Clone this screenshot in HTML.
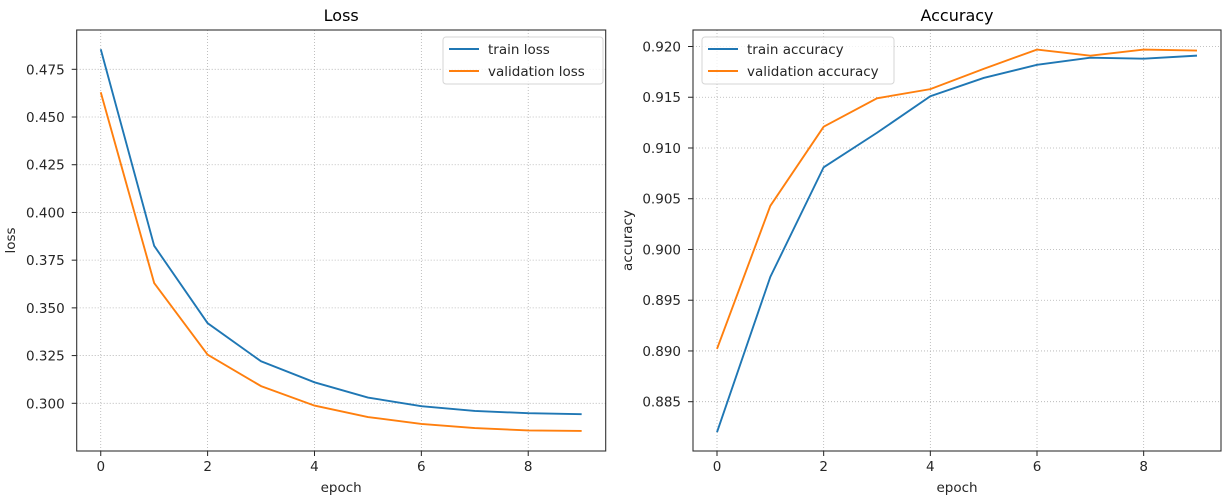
<!DOCTYPE html>
<html><head><meta charset="utf-8"><style>
body{margin:0;background:#fff;}
svg{display:block;font-family:"DejaVu Sans","Liberation Sans",sans-serif;}
</style></head><body>
<svg id="fig" width="1232" height="502" viewBox="0 0 1232 502" xmlns="http://www.w3.org/2000/svg"></svg>
<script>
const epochs=[0,1,2,3,4,5,6,7,8,9];
const trainLoss=[0.4855,0.3825,0.342,0.322,0.311,0.303,0.2985,0.296,0.2948,0.2943];
const valLoss=[0.463,0.363,0.3255,0.309,0.2988,0.2928,0.2892,0.287,0.2858,0.2855];
const trainAcc=[0.8820,0.8973,0.9081,0.9115,0.9151,0.9169,0.9182,0.9189,0.9188,0.9191];
const valAcc=[0.8902,0.9043,0.9121,0.9149,0.9158,0.9178,0.9197,0.9191,0.9197,0.9196];
const xTicks=[0,2,4,6,8];
const lossTicks=[0.300,0.325,0.350,0.375,0.400,0.425,0.450,0.475];
const accTicks=[0.885,0.890,0.895,0.900,0.905,0.910,0.915,0.920];

const NS="http://www.w3.org/2000/svg";
const svg=document.getElementById('fig');
function mk(tag,attrs,parent){const e=document.createElementNS(NS,tag);for(const k in attrs)e.setAttribute(k,attrs[k]);(parent||svg).appendChild(e);return e;}

function panel(o){
  const g=mk('g',{});
  
  
  const L=o.left,R=o.right,T=30,B=451;
  const xs=v=>L+(v+0.45)/9.9*(R-L);
  const ys=v=>o.y0px+(v-o.y0)/(o.y1-o.y0)*(o.y1px-o.y0px);
  xTicks.forEach(t=>{
    const x=xs(t);
    const gl=mk('line',{x1:x,x2:x,y1:T,y2:B,stroke:'#b0b0b0','stroke-width':0.8,'stroke-dasharray':'1,2'},g);
    
    mk('line',{x1:x,x2:x,y1:B,y2:B+5,stroke:'#222','stroke-width':1},g);
    const tx=mk('text',{x:x,y:B+20,'text-anchor':'middle','font-size':13.5,fill:'#262626'},g);
    tx.textContent=t;
    
  });
  o.ticks.forEach(t=>{
    const y=ys(t);
    const gl=mk('line',{x1:L,x2:R,y1:y,y2:y,stroke:'#b0b0b0','stroke-width':0.8,'stroke-dasharray':'1,2'},g);
    
    mk('line',{x1:L-5,x2:L,y1:y,y2:y,stroke:'#222','stroke-width':1},g);
    const tx=mk('text',{x:L-12,y:y+5,'text-anchor':'end','font-size':13.5,fill:'#262626'},g);
    tx.textContent=t.toFixed(3);
    
  });
  o.series.forEach(s=>{
    const p=mk('polyline',{points:epochs.map((e,i)=>xs(e)+','+ys(s.vals[i])).join(' '),fill:'none',stroke:s.color,'stroke-width':1.9},g);
    
  });
  const fr=mk('rect',{x:L,y:T,width:R-L,height:B-T,fill:'none',stroke:'#333','stroke-width':1.1},g);
  
  const ti=mk('text',{x:(L+R)/2,y:21,'text-anchor':'middle','font-size':16,fill:'#000'},g);
  ti.textContent=o.title;
  const xl=mk('text',{x:(L+R)/2,y:492,'text-anchor':'middle','font-size':13.5,fill:'#262626'},g);
  xl.textContent='epoch';
  const yl=mk('text',{x:0,y:0,'text-anchor':'middle','font-size':13.5,fill:'#262626',transform:`translate(${o.ylx},${(T+B)/2}) rotate(-90)`},g);
  yl.textContent=o.ylabel;
  const lg=mk('g',{},g);
  
  mk('rect',{x:o.lgx,y:37,width:o.lgw,height:47,rx:3,fill:'#fff','fill-opacity':0.8,stroke:'#d6d6d6','stroke-width':1},lg);
  o.series.forEach((s,i)=>{
    const y=50+i*22;
    const le=mk('g',{},lg);
    
    mk('line',{x1:o.lgx+6,x2:o.lgx+36,y1:y-1,y2:y-1,stroke:s.color,'stroke-width':1.9},le);
    const t=mk('text',{x:o.lgx+45,y:y+4,'font-size':13.5,fill:'#262626'},le);
    t.textContent=s.label;
  });
}
panel({name:'loss',left:76.7,right:605.7,y0:0.300,y1:0.475,y0px:403.3,y1px:69.3,ticks:lossTicks,title:'Loss',ylabel:'loss',ylx:15,lgx:443,lgw:160,
  series:[{id:'train-loss-line',label:'train loss',vals:trainLoss,color:'#1f77b4'},{id:'validation-loss-line',label:'validation loss',vals:valLoss,color:'#ff7f0e'}]});
panel({name:'accuracy',left:693,right:1221,y0:0.885,y1:0.920,y0px:401.7,y1px:46.5,ticks:accTicks,title:'Accuracy',ylabel:'accuracy',ylx:632,lgx:702,lgw:192,
  series:[{id:'train-accuracy-line',label:'train accuracy',vals:trainAcc,color:'#1f77b4'},{id:'validation-accuracy-line',label:'validation accuracy',vals:valAcc,color:'#ff7f0e'}]});
</script>
</body></html>
